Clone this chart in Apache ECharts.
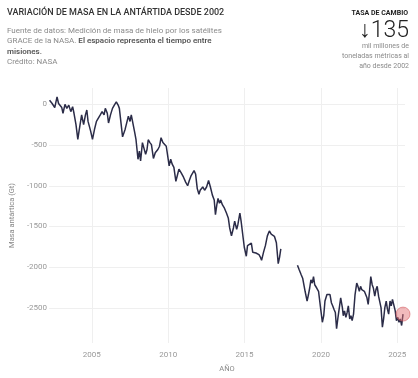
<!DOCTYPE html>
<html><head><meta charset="utf-8">
<script src="https://cdn.jsdelivr.net/npm/echarts@6/dist/echarts.min.js"></script>
<style>html,body{margin:0;padding:0;background:#fff}#c{width:418px;height:378px}</style>
</head><body><div id="c"></div>
<script>
// GRACE (2002-2017): [year, Gt]
const graceYears = [2002.23,2002.40,2002.57,2002.72,2002.82,2002.92,2003.03,2003.11,2003.24,2003.36,2003.49,2003.62,2003.74,2003.83,2003.96,2004.08,2004.16,2004.25,2004.33,2004.46,2004.58,2004.67,2004.75,2004.92,2005.04,2005.17,2005.30,2005.42,2005.55,2005.67,2005.80,2005.88,2006.01,2006.09,2006.22,2006.35,2006.47,2006.60,2006.72,2006.80,2007.01,2007.18,2007.26,2007.39,2007.50,2007.58,2007.69,2007.81,2007.89,2008.02,2008.11,2008.19,2008.31,2008.40,2008.52,2008.61,2008.69,2008.80,2008.90,2009.03,2009.15,2009.32,2009.43,2009.53,2009.65,2009.78,2009.87,2009.95,2010.06,2010.16,2010.26,2010.37,2010.50,2010.62,2010.70,2010.83,2011.00,2011.14,2011.27,2011.38,2011.50,2011.58,2011.69,2011.79,2011.90,2012.01,2012.09,2012.17,2012.26,2012.38,2012.51,2012.64,2012.76,2012.89,2013.01,2013.09,2013.18,2013.26,2013.35,2013.43,2013.55,2013.68,2013.81,2013.93,2014.02,2014.14,2014.27,2014.35,2014.48,2014.56,2014.69,2014.77,2014.90,2014.98,2015.11,2015.19,2015.31,2015.44,2015.53,2015.61,2015.74,2015.86,2015.94,2016.03,2016.11,2016.24,2016.36,2016.49,2016.62,2016.74,2016.87,2016.95,2017.08,2017.20,2017.29,2017.37];
const graceMass = [50,10,-40,90,10,30,-40,-110,0,-50,-10,-90,-30,-110,-250,-430,-330,-310,-130,-250,-130,-70,-210,-330,-430,-310,-210,-190,-130,-90,-130,-50,-110,-230,-130,-50,-10,30,-10,-50,-400,-305,-290,-145,-210,-130,-150,-350,-435,-675,-575,-695,-470,-455,-615,-555,-435,-470,-495,-665,-595,-555,-515,-410,-470,-470,-515,-615,-755,-675,-735,-775,-945,-855,-795,-835,-895,-955,-1000,-935,-875,-895,-815,-855,-1035,-1105,-1055,-1075,-1015,-1055,-1015,-935,-1015,-1115,-1175,-1355,-1235,-1155,-1215,-1175,-1235,-1275,-1335,-1395,-1515,-1615,-1515,-1435,-1535,-1475,-1335,-1435,-1635,-1755,-1865,-1735,-1715,-1705,-1815,-1835,-1825,-1845,-1845,-1875,-1915,-1815,-1735,-1615,-1555,-1595,-1615,-1620,-1700,-1955,-1875,-1775];
// GRACE-FO (2018-2025)
const foYears = [2018.46,2018.58,2018.71,2018.80,2018.88,2018.96,2019.09,2019.18,2019.26,2019.34,2019.43,2019.51,2019.59,2019.72,2019.84,2019.97,2020.09,2020.18,2020.26,2020.39,2020.52,2020.59,2020.68,2020.77,2020.85,2020.94,2021.02,2021.10,2021.19,2021.29,2021.40,2021.46,2021.54,2021.63,2021.71,2021.79,2021.88,2021.96,2022.04,2022.13,2022.23,2022.34,2022.42,2022.51,2022.59,2022.67,2022.76,2022.84,2022.92,2023.01,2023.09,2023.18,2023.26,2023.35,2023.43,2023.52,2023.60,2023.68,2023.77,2023.85,2023.93,2024.02,2024.10,2024.18,2024.27,2024.35,2024.43,2024.52,2024.60,2024.68,2024.77,2024.86,2024.94,2025.03,2025.11,2025.19,2025.28,2025.37];
const foMass = [-1975,-2035,-2095,-2135,-2115,-2295,-2415,-2335,-2255,-2155,-2195,-2115,-2215,-2255,-2295,-2495,-2675,-2595,-2415,-2335,-2315,-2335,-2435,-2475,-2515,-2555,-2755,-2635,-2615,-2375,-2495,-2595,-2535,-2615,-2555,-2475,-2635,-2595,-2655,-2575,-2335,-2195,-2235,-2295,-2235,-2275,-2255,-2295,-2275,-2375,-2455,-2295,-2115,-2215,-2255,-2355,-2275,-2235,-2355,-2375,-2495,-2735,-2635,-2495,-2415,-2515,-2575,-2415,-2475,-2395,-2375,-2535,-2655,-2615,-2675,-2635,-2715,-2575];
// Uncertainty (half-width, Gt) shown on first and last GRACE months
const uncStart = [70,55,45,35,25];
const uncEnd = [30,30,30,30,30,30,30,30,30,30];
const xTicks = [2005,2010,2015,2020,2025];
const yTicks = [0,-500,-1000,-1500,-2000,-2500];

const gPairs = graceYears.map((y,i)=>[y,graceMass[i]]);
const fPairs = foYears.map((y,i)=>[y,foMass[i]]);
function bandSeries(startIdx, unc, id){
  const lo = unc.map((u,k)=>[graceYears[startIdx+k], graceMass[startIdx+k]-u]);
  const hi = unc.map((u,k)=>[graceYears[startIdx+k], 2*u]);
  return [
    {type:'line',stack:id,data:lo,symbol:'none',lineStyle:{opacity:0},silent:true,z:1},
    {type:'line',stack:id,data:hi,symbol:'none',lineStyle:{opacity:0},areaStyle:{color:'rgba(150,140,230,0.28)'},silent:true,z:1}
  ];
}
const last = fPairs[fPairs.length-1];
const FONT = 'Roboto, "Noto Sans", sans-serif';
const chart = echarts.init(document.getElementById('c'));
chart.setOption({
  animation:false,
  backgroundColor:'#fff',
  grid:{left:35,right:13,top:88,bottom:30,containLabel:false},
  xAxis:{type:'value',min:2002.2,max:2025.5,
    name:'AÑO',nameLocation:'middle',nameGap:22,nameTextStyle:{color:'#888',fontSize:7.5,fontFamily:FONT},
    axisLine:{show:false},axisTick:{show:false,customValues:xTicks},
    axisLabel:{customValues:xTicks,formatter:v=>String(v),color:'#999',fontSize:8,fontFamily:FONT,margin:8},
    splitLine:{show:true,lineStyle:{color:'#efefef',width:1}}},
  yAxis:{type:'value',min:-2930,max:200,
    name:'Masa antártica (Gt)',nameLocation:'middle',nameGap:24,nameRotate:90,nameTextStyle:{color:'#888',fontSize:7.5,fontFamily:FONT},
    axisLine:{show:false},axisTick:{show:false,customValues:yTicks},
    axisLabel:{customValues:yTicks,formatter:v=>String(v),color:'#999',fontSize:8,fontFamily:FONT,margin:2},
    splitLine:{show:true,lineStyle:{color:'#efefef',width:1}}},
  series:[
    ...bandSeries(0,uncStart,'b1'),
    ...bandSeries(graceYears.length-uncEnd.length,uncEnd,'b2'),
    {type:'line',data:gPairs,symbol:'none',lineStyle:{color:'#2b2c48',width:1.5},z:3},
    {type:'line',data:fPairs,symbol:'none',lineStyle:{color:'#2b2c48',width:1.5},z:3},
    {type:'scatter',data:[last],symbolSize:14,itemStyle:{color:'rgba(226,110,115,0.6)',borderColor:'rgba(210,90,95,0.7)',borderWidth:1},z:4}
  ],
  graphic:[
    {type:'text',x:7,y:13,style:{text:'VARIACIÓN DE MASA EN LA ANTÁRTIDA DESDE 2002',fill:'#333',font:'500 9px '+FONT,verticalAlign:'middle'}},
    {type:'text',x:7,y:26,style:{
      text:'{n|Fuente de datos: Medición de masa de hielo por los satélites}\n{n|GRACE de la NASA. }{b|El espacio representa el tiempo entre}\n{b|misiones.}\n{n|Crédito: NASA}',
      lineHeight:10.3,verticalAlign:'top',
      rich:{n:{fill:'#8a8a8a',font:'8px '+FONT,lineHeight:10.3},b:{fill:'#555',font:'600 8px '+FONT,lineHeight:10.3}}}},
    {type:'text',x:408,y:13,style:{text:'TASA DE CAMBIO',fill:'#222',font:'700 7px '+FONT,align:'right',verticalAlign:'middle'}},
    {type:'text',x:409,y:31,style:{text:'↓135',fill:'#222',font:'300 23px '+FONT,align:'right',verticalAlign:'middle'}},
    {type:'text',x:409,y:41.5,style:{text:'mil millones de\ntoneladas métricas al\naño desde 2002',fill:'#8a8a8a',font:'7px '+FONT,align:'right',verticalAlign:'top',lineHeight:9.8}}
  ]
});
</script></body></html>
